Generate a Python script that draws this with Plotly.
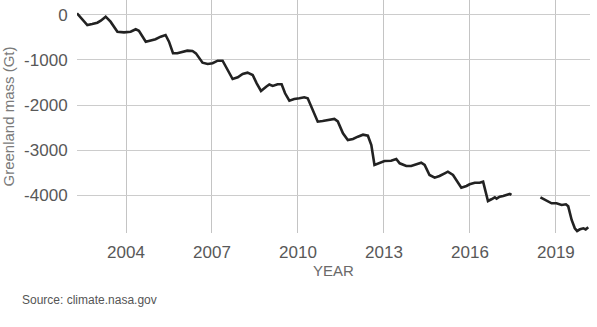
import plotly.graph_objects as go

# Greenland mass change (Gt); None marks the GRACE / GRACE-FO gap
years = [
    2002.29, 2002.48, 2002.65, 2002.82, 2003.00, 2003.12, 2003.29, 2003.46, 2003.70, 2003.93,
    2004.16, 2004.34, 2004.45, 2004.69, 2004.86, 2005.03, 2005.21, 2005.38, 2005.50, 2005.64,
    2005.79, 2005.97, 2006.14, 2006.32, 2006.44, 2006.67, 2006.85, 2007.02, 2007.20, 2007.37,
    2007.55, 2007.72, 2007.90, 2008.07, 2008.24, 2008.42, 2008.56, 2008.71, 2008.89, 2009.00,
    2009.12, 2009.29, 2009.43, 2009.55, 2009.70, 2009.87, 2010.05, 2010.22, 2010.34, 2010.51,
    2010.69, 2010.86, 2011.10, 2011.27, 2011.39, 2011.57, 2011.74, 2011.92, 2012.09, 2012.27,
    2012.44, 2012.56, 2012.67, 2012.85, 2013.02, 2013.25, 2013.43, 2013.55, 2013.78, 2013.95,
    2014.13, 2014.30, 2014.42, 2014.59, 2014.77, 2014.94, 2015.12, 2015.23, 2015.41, 2015.58,
    2015.70, 2015.88, 2015.99, 2016.17, 2016.34, 2016.46, 2016.54, 2016.63, 2016.75, 2016.87,
    2016.93, 2017.04, 2017.16, 2017.28, 2017.39, 2017.45,
    2017.95,
    2018.46, 2018.67, 2018.85, 2019.02, 2019.20, 2019.35, 2019.43, 2019.55, 2019.66, 2019.74,
    2019.84, 2019.96, 2020.04, 2020.13,
]
mass = [
    30, -117, -228, -206, -177, -133, -44, -155, -376, -390,
    -376, -323, -354, -597, -575, -544, -487, -449, -597, -854,
    -854, -832, -796, -803, -855, -1062, -1091, -1075, -1018, -1018,
    -1223, -1423, -1385, -1312, -1283, -1334, -1518, -1688, -1593, -1545,
    -1577, -1540, -1540, -1739, -1903, -1865, -1850, -1827, -1850, -2108,
    -2367, -2352, -2330, -2307, -2360, -2624, -2772, -2750, -2699, -2655,
    -2677, -2883, -3325, -3274, -3237, -3230, -3192, -3288, -3347, -3347,
    -3303, -3274, -3325, -3546, -3606, -3569, -3509, -3473, -3546, -3708,
    -3827, -3790, -3752, -3717, -3717, -3695, -3916, -4122, -4084, -4040,
    -4070, -4027, -4011, -3989, -3967, -3989,
    None,
    -4040, -4122, -4173, -4173, -4210, -4195, -4240, -4542, -4726, -4785,
    -4748, -4726, -4750, -4704,
]

x_ticks = [2004, 2007, 2010, 2013, 2016, 2019]
y_ticks = [0, -1000, -2000, -3000, -4000]

fig = go.Figure(
    go.Scatter(
        x=years, y=mass, mode="lines", connectgaps=False,
        line=dict(color="#222222", width=2.6),
        hoverinfo="skip",
    )
)

FONT = "Liberation Sans, Arial, sans-serif"
tick_font = dict(family=FONT, size=17, color="#585858")

fig.update_layout(
    width=597, height=327,
    margin=dict(l=77, r=7, t=0, b=94),
    paper_bgcolor="white", plot_bgcolor="white",
    showlegend=False,
    xaxis=dict(
        range=[2002.29, 2020.19],
        tickmode="array", tickvals=x_ticks, ticktext=[str(v) for v in x_ticks],
        showgrid=True, gridcolor="#c4c4c4", gridwidth=1,
        zeroline=False, showline=False,
        ticks="outside", ticklen=4, tickcolor="rgba(0,0,0,0)",
        tickfont=tick_font,
        title=dict(text="YEAR", font=dict(family=FONT, size=15, color="#6a6a6a"), standoff=2),
        automargin=False,
    ),
    yaxis=dict(
        range=[-4830, 325],
        tickmode="array", tickvals=y_ticks, ticktext=[str(v) for v in y_ticks],
        showgrid=True, gridcolor="#cccccc", gridwidth=1,
        zeroline=False, showline=False,
        ticks="outside", ticklen=5, tickcolor="rgba(0,0,0,0)",
        tickfont=tick_font,
        title=dict(text="Greenland mass (Gt)", font=dict(family=FONT, size=15, color="#7a7a7a"), standoff=10),
        automargin=False,
    ),
    annotations=[
        dict(
            text="Source: climate.nasa.gov", xref="paper", yref="paper",
            x=-0.111, y=-0.287, xanchor="left", yanchor="middle", showarrow=False,
            font=dict(family=FONT, size=12, color="#555555"),
        )
    ],
)

fig.write_html(
    "out.html",
    config={"displayModeBar": False},
    post_script="document.body.style.margin='0';",
)
